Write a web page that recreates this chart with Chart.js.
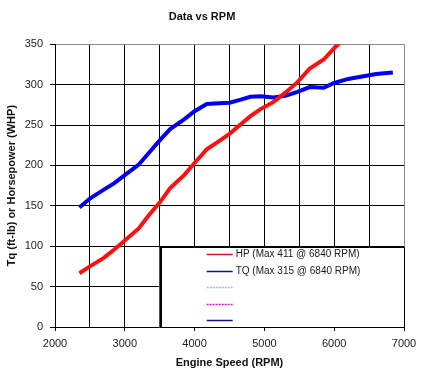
<!DOCTYPE html>
<html>
<head>
<meta charset="utf-8">
<script src="https://cdn.jsdelivr.net/npm/chart.js@4.4.1/dist/chart.umd.min.js"></script>
<style>
  html, body { margin: 0; padding: 0; background: #fff; }
  #wrap { width: 434px; height: 380px; }
</style>
</head>
<body>
<div id="wrap"><canvas id="c" width="434" height="380"></canvas></div>
<script>
// ---- data ----
const chartTitle = 'Data vs RPM';
const xTitle = 'Engine Speed (RPM)';
const yTitle = 'Tq (ft-lb) or Horsepower (WHP)';
const rpm = [2350, 2500, 2700, 2850, 3000, 3200, 3350, 3500, 3650, 3850, 4000, 4175, 4350, 4500, 4650, 4800, 4950, 5125, 5300, 5475, 5650, 5850, 6000, 6200, 6400, 6600, 6840];
const hp  = [66.5, 75, 85.5, 96, 107, 122, 139, 154, 172, 188, 203, 220, 230, 239, 250, 261, 270, 278, 290, 303, 320, 331, 345, 362, 378, 393, 411];
const tq  = [148, 159, 170, 178, 188, 201, 216, 231, 245, 257, 267, 276, 277, 277.5, 281, 285, 285.5, 284, 286, 291, 297, 296, 302, 307, 310, 313, 315];
const seriesLabels = ['HP (Max 411 @ 6840 RPM)', 'TQ (Max 315 @ 6840 RPM)', '', '', ''];
const xMin = 2000, xMax = 7000, xStep = 500, xLabelStep = 1000;
const yMin = 0, yMax = 350, yStep = 50;

// ---- styles ----
const lineColors = ['#ff1010', '#0000f0'];
const legendStyles = [
  { color: '#d01818', dash: [] },
  { color: '#101080', dash: [] },
  { color: '#8cc0e8', dash: [2, 1] },
  { color: '#d010d0', dash: [2, 1] },
  { color: '#101080', dash: [] }
];
const FONT = 'Arial, "Liberation Sans", sans-serif';

const toPts = (xs, ys) => xs.map((x, i) => ({ x: x, y: ys[i] }));

const datasets = seriesLabels.map((lab, i) => ({
  label: lab,
  data: i === 0 ? toPts(rpm, hp) : (i === 1 ? toPts(rpm, tq) : []),
  borderColor: i < 2 ? lineColors[i] : legendStyles[i].color,
  borderWidth: 4,
  pointRadius: 0,
  tension: 0,
  fill: false,
  clip: 0
}));

const boxLegend = {
  id: 'boxLegend',
  afterDatasetsDraw(chart) {
    const ctx = chart.ctx, ca = chart.chartArea;
    const w = ca.right - ca.left, h = ca.bottom - ca.top;
    const left = ca.left + w * 0.3;
    const top = ca.top + h * (250 / 350) + 1;
    const right = ca.right + 1;
    const bottom = ca.bottom + 1;
    ctx.save();
    ctx.fillStyle = '#fff';
    ctx.fillRect(left, top, right - left, bottom - top);
    ctx.strokeStyle = '#000';
    ctx.lineWidth = 1;
    ctx.strokeRect(Math.round(left) + 0.5, Math.round(top) + 0.5, Math.round(right - left) - 1, Math.round(bottom - top) - 1);
    ctx.fillStyle = '#000';
    ctx.fillRect(Math.round(left), Math.round(top), 2, Math.round(bottom - top));
    const rowH = 16.5;
    chart.data.datasets.forEach((ds, i) => {
      const y = Math.round(top + 7 + i * rowH) + 0.5;
      const sx = left + 47;
      ctx.strokeStyle = legendStyles[i].color;
      ctx.lineWidth = 1.5;
      ctx.setLineDash(legendStyles[i].dash);
      ctx.beginPath();
      ctx.moveTo(sx, y);
      ctx.lineTo(sx + 26, y);
      ctx.stroke();
      ctx.setLineDash([]);
      if (ds.label) {
        ctx.fillStyle = '#1a1a1a';
        ctx.font = '10px ' + FONT;
        ctx.textBaseline = 'middle';
        ctx.textAlign = 'left';
        ctx.fillText(ds.label, sx + 29, y);
      }
    });
    ctx.restore();
  }
};

new Chart(document.getElementById('c'), {
  type: 'line',
  data: { datasets: datasets },
  options: {
    responsive: false,
    animation: false,
    devicePixelRatio: 1,
    layout: { padding: { left: 0, right: 30, top: 0, bottom: 0 } },
    plugins: {
      legend: { display: false },
      tooltip: { enabled: false },
      title: {
        display: true,
        text: chartTitle,
        color: '#111',
        font: { family: FONT, size: 11, weight: 'bold' },
        padding: { top: 10, bottom: 21 }
      }
    },
    scales: {
      x: {
        type: 'linear',
        min: xMin, max: xMax,
        afterFit: s => { s.height = 53; },
        ticks: {
          stepSize: xStep,
          autoSkip: false,
          maxRotation: 0,
          padding: 6,
          color: '#222',
          font: { family: FONT, size: 11 },
          callback: v => (v % xLabelStep === 0 ? String(v) : '')
        },
        grid: {
          color: c => (c.tick && c.tick.value === xMax ? '#8a8a8a' : '#000'),
          lineWidth: 1,
          tickLength: 4,
          tickColor: c => (c.tick && c.tick.value % xLabelStep === 0 ? '#000' : 'rgba(0,0,0,0)')
        },
        border: { color: '#000', width: 1 },
        title: {
          display: true,
          text: xTitle,
          color: '#111',
          font: { family: FONT, size: 11, weight: 'bold' },
          padding: { top: 0, bottom: 10 }
        }
      },
      y: {
        min: yMin, max: yMax,
        afterFit: s => { s.width = 55; },
        ticks: {
          stepSize: yStep,
          padding: 7,
          color: '#222',
          font: { family: FONT, size: 11 }
        },
        grid: {
          color: c => (c.tick && c.tick.value === yMax ? '#8a8a8a' : '#000'),
          lineWidth: 1,
          tickLength: 5,
          tickColor: '#000'
        },
        border: { color: '#000', width: 1 },
        title: {
          display: true,
          text: yTitle,
          color: '#111',
          font: { family: FONT, size: 11, weight: 'bold' },
          padding: { top: 5, bottom: 0 }
        }
      }
    }
  },
  plugins: [boxLegend]
});
</script>
</body>
</html>
